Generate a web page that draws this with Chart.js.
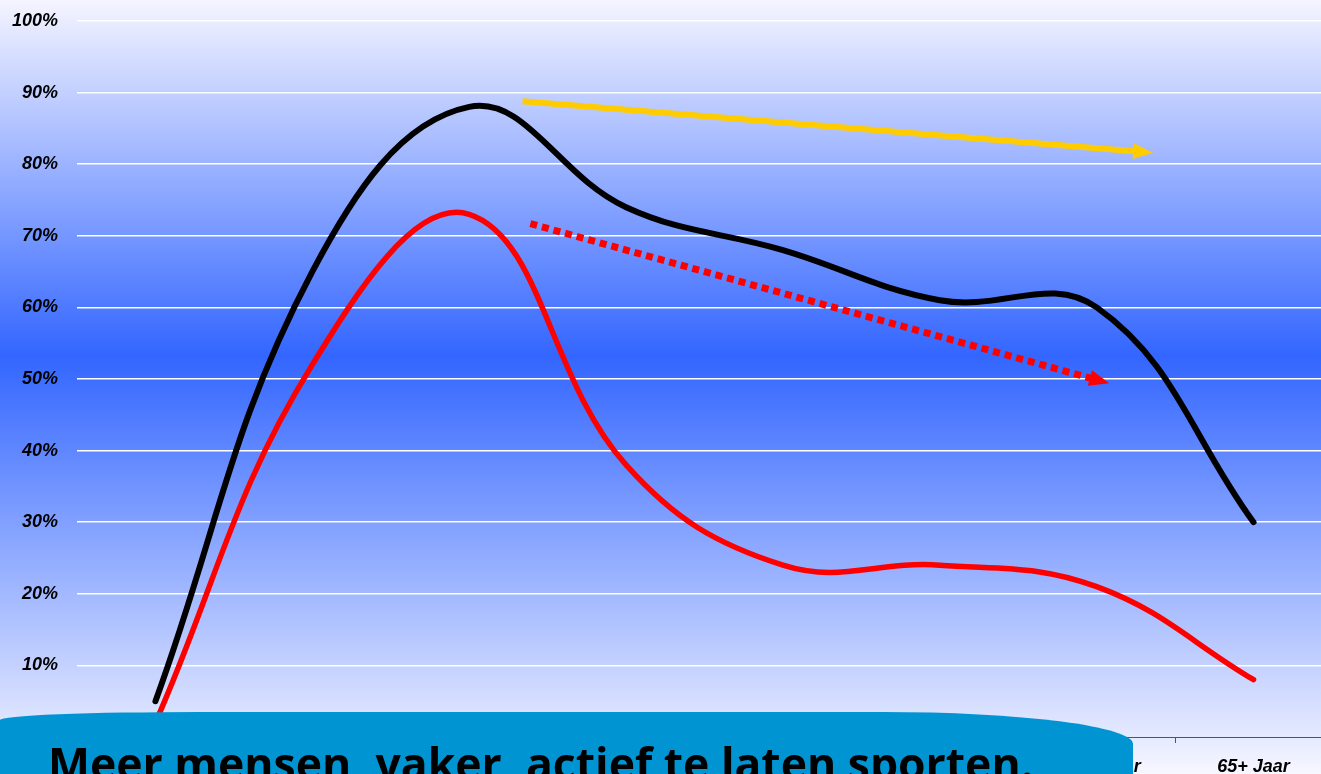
<!DOCTYPE html>
<html lang="nl">
<head>
    <meta charset="UTF-8">
    <title>Sportdeelname naar leeftijd</title>
    <script src="https://cdn.jsdelivr.net/npm/chart.js@4.4.1/dist/chart.umd.min.js"></script>
    <style>
        html, body { margin: 0; padding: 0; overflow: hidden; background: #f5f5ff; }
        .wrap { position: relative; width: 1321px; height: 774px; overflow: hidden; }
        #ageChart { position: absolute; left: 0; top: 0; }
        .banner {
            position: absolute; left: 0; top: 712px; width: 1133px; height: 80px;
            background: #0094d2;
            border-top-left-radius: 200px 8px;
            border-top-right-radius: 250px 32px;
        }
        .banner span {
            position: absolute; left: 48px; top: 29px; white-space: nowrap;
            font-family: "Open Sans", "Noto Sans", sans-serif; font-weight: 700;
            font-size: 44.5px; line-height: 1; color: #000;
        }
    </style>
</head>
<body>
    <div class="wrap">
        <canvas id="ageChart" width="1332" height="774"></canvas>
        <div class="banner"><span>Meer mensen, vaker, actief te laten sporten.</span></div>
    </div>

    <script>
        // age groups and percentages
        const ageGroups = ['0-5 Jaar', '6-11 Jaar', '12-17 Jaar', '18-24 Jaar', '25-34 Jaar', '35-49 Jaar', '50-64 Jaar', '65+ Jaar'];
        const sportersTotal = [5, 65, 88, 74, 68, 61, 60, 30];      // black line
        const sportersActief = [2, 52, 73, 38, 24, 24, 21, 8];      // red line
        const yTicks = [0, 10, 20, 30, 40, 50, 60, 70, 80, 90, 100];

        // trend arrows, in data units: [index, percent] -> [index, percent]
        const trendArrows = [
            { from: [2.34, 88.8], to: [6.36, 81.6], color: '#ffcc00', dash: [], width: 6 },
            { from: [2.39, 71.7], to: [6.08, 49.4], color: '#ff0000', dash: [7, 5], width: 7 }
        ];

        const bgPlugin = {
            id: 'bg',
            beforeDraw(chart) {
                const c = chart.ctx;
                const g = c.createLinearGradient(0, 0, 0, chart.height);
                g.addColorStop(0, '#f5f5ff');
                g.addColorStop(0.46, '#3366ff');
                g.addColorStop(1, '#f7f7ff');
                c.save();
                c.fillStyle = g;
                c.fillRect(0, 0, chart.width, chart.height);
                c.restore();
            }
        };

        const arrowPlugin = {
            id: 'arrows',
            afterDatasetsDraw(chart) {
                const c = chart.ctx;
                const xs = chart.scales.x, ys = chart.scales.y;
                trendArrows.forEach(a => {
                    const x1 = xs.getPixelForValue(a.from[0]), y1 = ys.getPixelForValue(a.from[1]);
                    const x2 = xs.getPixelForValue(a.to[0]), y2 = ys.getPixelForValue(a.to[1]);
                    const ang = Math.atan2(y2 - y1, x2 - x1);
                    const head = 20;
                    c.save();
                    c.strokeStyle = a.color;
                    c.fillStyle = a.color;
                    c.lineWidth = a.width;
                    c.setLineDash(a.dash);
                    c.beginPath();
                    c.moveTo(x1, y1);
                    c.lineTo(x2 - Math.cos(ang) * head * 0.8, y2 - Math.sin(ang) * head * 0.8);
                    c.stroke();
                    c.setLineDash([]);
                    c.beginPath();
                    c.moveTo(x2, y2);
                    c.lineTo(x2 - head * Math.cos(ang) + 8 * Math.sin(ang), y2 - head * Math.sin(ang) - 8 * Math.cos(ang));
                    c.lineTo(x2 - head * Math.cos(ang) - 8 * Math.sin(ang), y2 - head * Math.sin(ang) + 8 * Math.cos(ang));
                    c.closePath();
                    c.fill();
                    c.restore();
                });
            }
        };

        const tickFont = { family: '"Liberation Sans", Arial, sans-serif', size: 18, weight: 'bold', style: 'italic' };

        new Chart(document.getElementById('ageChart'), {
            type: 'line',
            data: {
                labels: ageGroups,
                datasets: [
                    { data: sportersTotal, borderColor: '#000', borderWidth: 6, tension: 0.4, pointRadius: 0, borderCapStyle: 'round' },
                    { data: sportersActief, borderColor: '#ff0000', borderWidth: 5.5, tension: 0.4, pointRadius: 0, borderCapStyle: 'round' }
                ]
            },
            options: {
                responsive: false,
                animation: false,
                layout: { padding: { top: 21, right: 0, bottom: 0, left: 0 } },
                plugins: { legend: { display: false }, tooltip: { enabled: false } },
                scales: {
                    x: {
                        offset: true,
                        grid: { offset: true, drawOnChartArea: false, drawTicks: true, tickLength: 6, color: '#555' },
                        border: { color: '#555', width: 1 },
                        ticks: { color: '#000', font: tickFont, padding: 13, maxRotation: 0 },
                        afterFit(s) { s.height = 37; }
                    },
                    y: {
                        min: 0, max: 100,
                        afterBuildTicks(s) { s.ticks = yTicks.map(v => ({ value: v })); },
                        grid: {
                            drawTicks: false,
                            color: ctx => ctx.tick && ctx.tick.value === 0 ? 'rgba(0,0,0,0)' : '#ffffff',
                            lineWidth: 1.5
                        },
                        border: { display: false },
                        ticks: {
                            color: '#000', font: tickFont, padding: 19,
                            callback: v => v === 0 ? '' : v + '%'
                        },
                        afterFit(s) { s.width = 77; s.paddingTop = 0; s.paddingBottom = 0; }
                    }
                }
            },
            plugins: [bgPlugin, arrowPlugin]
        });
    </script>
</body>
</html>
